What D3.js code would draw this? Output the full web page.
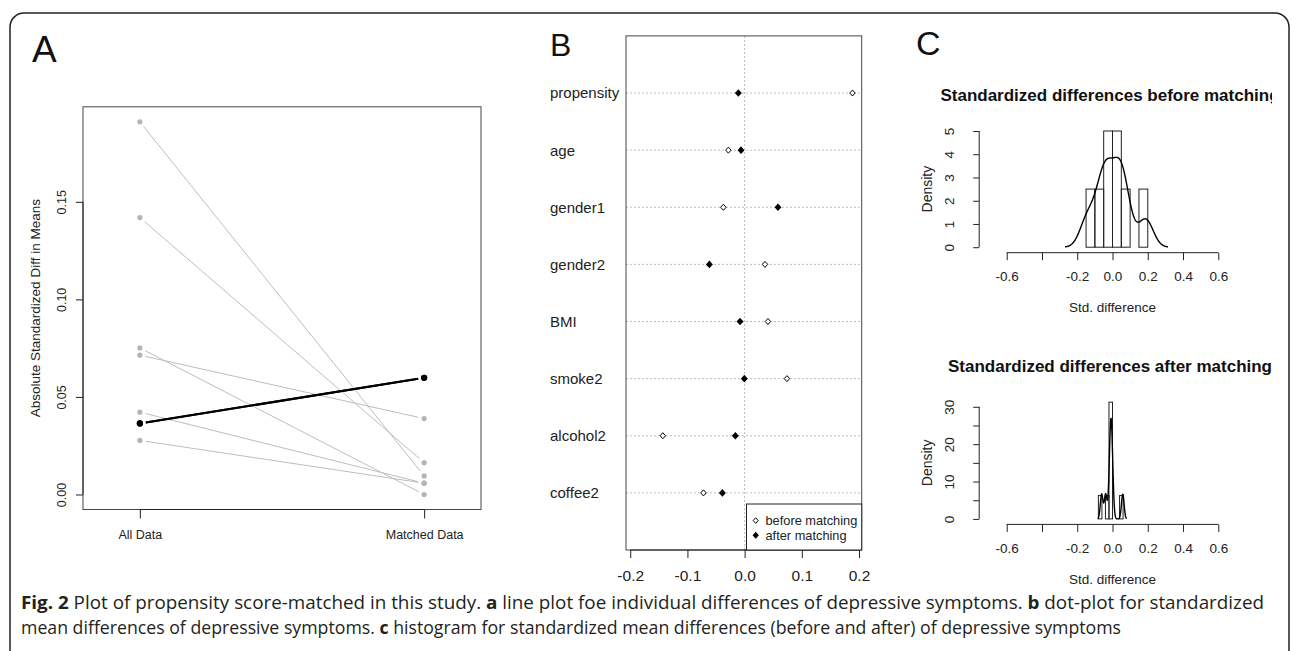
<!DOCTYPE html>
<html>
<head>
<meta charset="utf-8">
<script src="https://cdn.jsdelivr.net/npm/d3@7"></script>
<style>
  body { margin: 0; background: #fff; }
  svg { display: block; font-family: 'Liberation Sans', Arial, sans-serif; }
</style>
</head>
<body>
<svg id="fig" width="1292" height="651"></svg>
<script>
// ---- data ----
const covariates = ['propensity', 'age', 'gender1', 'gender2', 'BMI', 'smoke2', 'alcohol2', 'coffee2']
// signed standardized mean differences (panel B, also feeds the histograms in C)
const beforeDiff = [0.1885, -0.0284, -0.0372, 0.0356, 0.0408, 0.074, -0.143, -0.072]
const afterDiff = [-0.011, -0.0063, 0.0583, -0.0616, -0.008, -0.0005, -0.0162, -0.0389]
// absolute differences (panel A)
const allDataAbs = [0.191, 0.0277, 0.0364, 0.0364, 0.0422, 0.0751, 0.1419, 0.0714]
const matchedAbs = [0.0095, 0.0058, 0.0598, 0.0598, 0.0058, 0.0, 0.0163, 0.0389]

const groupLabels = ['All Data', 'Matched Data']
const yTicksA = [0, 0.05, 0.10, 0.15]
const yTickLabelsA = ['0.00', '0.05', '0.10', '0.15']
const xTicksB = [-0.2, -0.1, 0, 0.1, 0.2]
const xTickLabelsB = ['-0.2', '-0.1', '0.0', '0.1', '0.2']
const legendLabels = ['before matching', 'after matching']
const xTicksC = [-0.6, -0.4, -0.2, 0, 0.2, 0.4, 0.6]
const xTickLabelsC = ['-0.6', '', '-0.2', '0.0', '0.2', '0.4', '0.6']
const yTicksBefore = [0, 1, 2, 3, 4, 5]
const yTickLabelsBefore = ['0', '1', '2', '3', '4', '5']
const yTicksAfter = [0, 5, 10, 15, 20, 25, 30]
const yTickLabelsAfter = ['0', '', '10', '', '20', '', '30']
const breaksBefore = [-0.15, -0.1, -0.05, 0, 0.05, 0.1, 0.15, 0.2]
const breaksAfter = [-0.08, -0.06, -0.04, -0.02, 0, 0.02, 0.04, 0.06]

const ink = '#222'
const grey = '#bebebe'
const svg = d3.select('#fig')

// outer figure frame (runs off the bottom of the crop)
svg.append('rect')
    .attr('x', 10).attr('y', 13)
    .attr('width', 1279).attr('height', 660)
    .attr('rx', 14)
    .attr('fill', 'none')
    .attr('stroke', '#222')
    .attr('stroke-width', 1.5)

// panel letters
const letters = [['A', 32, 62, 37], ['B', 550, 56, 32], ['C', 916, 55, 34]]
letters.forEach(([t, x, y, s]) => {
    svg.append('text').attr('x', x).attr('y', y)
        .attr('font-size', s).attr('fill', '#111').text(t)
})

// R style axis: the line only spans the outer ticks, labels placed by hand
function rAxis(g, orient, scale, values, labels, tickLen, labelOffset, fontSize, rotate = false) {
    const fn = orient === 'bottom' ? d3.axisBottom : d3.axisLeft
    g.call(fn(scale).tickValues(values).tickSize(tickLen).tickSizeOuter(0)
        .tickFormat((d, i) => labels[i]))
    g.attr('font-family', null).attr('font-size', null)
    g.select('.domain').remove()
    g.selectAll('.tick line').attr('stroke', ink)
    const first = scale(values[0])
    const last = scale(values[values.length - 1])
    if (orient === 'bottom') {
        g.append('line').attr('x1', first).attr('x2', last).attr('stroke', ink)
        g.selectAll('.tick text').attr('y', labelOffset).attr('dy', 0)
    } else {
        g.append('line').attr('y1', first).attr('y2', last).attr('stroke', ink)
        if (rotate) {
            g.selectAll('.tick text')
                .attr('x', null).attr('dy', 0)
                .attr('text-anchor', 'middle')
                .attr('transform', `translate(${-labelOffset},0) rotate(-90)`)
        }
    }
    g.selectAll('.tick text').attr('fill', ink).attr('font-size', fontSize)
}

function rotatedLabel(x, y, text, size) {
    svg.append('text')
        .attr('transform', `translate(${x},${y}) rotate(-90)`)
        .attr('text-anchor', 'middle')
        .attr('font-size', size)
        .attr('fill', ink)
        .text(text)
}

// ---------------- Panel A ----------------
const ax = d3.scaleLinear().domain([0.8, 2.2]).range([83, 481])
const ay = d3.scaleLinear().domain([-0.0077, 0.1987]).range([509.5, 106.8])
const gA = svg.append('g')

const pairs = covariates.map((name, i) => ({
    name,
    all: allDataAbs[i],
    matched: matchedAbs[i],
    worse: matchedAbs[i] > allDataAbs[i]
})).sort((a, b) => a.worse - b.worse)

// lines leave a small gap round the points (type = "b")
function gapped(d, gap) {
    const x1 = ax(1), y1 = ay(d.all), x2 = ax(2), y2 = ay(d.matched)
    const len = Math.hypot(x2 - x1, y2 - y1)
    const ux = (x2 - x1) / len, uy = (y2 - y1) / len
    return [x1 + ux * gap, y1 + uy * gap, x2 - ux * gap, y2 - uy * gap]
}

gA.selectAll('line.pair')
    .data(pairs)
    .enter()
    .append('line')
    .attr('class', 'pair')
    .each(function (d) {
        const [x1, y1, x2, y2] = gapped(d, 6)
        d3.select(this).attr('x1', x1).attr('y1', y1).attr('x2', x2).attr('y2', y2)
    })
    .attr('stroke', d => d.worse ? '#000' : grey)
    .attr('stroke-width', d => d.worse ? 2 : 1)

const ptsA = pairs.flatMap(d => [{ x: 1, v: d.all, worse: d.worse }, { x: 2, v: d.matched, worse: d.worse }])
gA.selectAll('circle')
    .data(ptsA)
    .enter()
    .append('circle')
    .attr('cx', d => ax(d.x))
    .attr('cy', d => ay(d.v))
    .attr('r', d => d.worse ? 3.1 : 2.6)
    .attr('fill', d => d.worse ? '#000' : '#b4b4b4')

gA.append('rect')
    .attr('x', ax.range()[0]).attr('y', ay.range()[1])
    .attr('width', ax.range()[1] - ax.range()[0])
    .attr('height', ay.range()[0] - ay.range()[1])
    .attr('fill', 'none').attr('stroke', '#444')

rAxis(gA.append('g').attr('transform', `translate(0,${ay.range()[0]})`),
    'bottom', ax, [1, 2], groupLabels, 9, 29, 12.5)
rAxis(gA.append('g').attr('transform', `translate(${ax.range()[0]},0)`),
    'left', ay, yTicksA, yTickLabelsA, 7, 17, 12.5, true)
rotatedLabel(40, (ay.range()[0] + ay.range()[1]) / 2, 'Absolute Standardized Diff in Means', 13.5)

// ---------------- Panel B ----------------
const bx = d3.scaleLinear().domain([-0.2074, 0.2047]).range([626, 861.7])
const by = d3.scaleLinear().domain([0, 9]).range([550, 35.9])
const rowY = i => by(covariates.length - i)
const gB = svg.append('g')

// diamond marker (pch 5 / pch 18)
const diamond = {
    draw(ctx, size) {
        const r = Math.sqrt(size) / 2
        ctx.moveTo(0, -r * 1.1)
        ctx.lineTo(r, 0)
        ctx.lineTo(0, r * 1.1)
        ctx.lineTo(-r, 0)
        ctx.closePath()
    }
}

gB.selectAll('line.row')
    .data(covariates)
    .enter()
    .append('line')
    .attr('class', 'row')
    .attr('x1', bx.range()[0]).attr('x2', bx.range()[1])
    .attr('y1', (d, i) => rowY(i)).attr('y2', (d, i) => rowY(i))
    .attr('stroke', grey).attr('stroke-dasharray', '2,2')

gB.append('line')
    .attr('x1', bx(0)).attr('x2', bx(0))
    .attr('y1', by.range()[0]).attr('y2', by.range()[1])
    .attr('stroke', grey).attr('stroke-dasharray', '2,2')

gB.selectAll('text.row')
    .data(covariates)
    .enter()
    .append('text')
    .attr('class', 'row')
    .attr('x', 550)
    .attr('y', (d, i) => rowY(i) + 5.4)
    .attr('font-size', 15)
    .attr('fill', ink)
    .text(d => d)

gB.selectAll('path.before')
    .data(beforeDiff)
    .enter()
    .append('path')
    .attr('class', 'before')
    .attr('d', d3.symbol(diamond, 30))
    .attr('transform', (d, i) => `translate(${bx(d)},${rowY(i)})`)
    .attr('fill', '#fff').attr('stroke', '#000').attr('stroke-width', 1)

gB.selectAll('path.after')
    .data(afterDiff)
    .enter()
    .append('path')
    .attr('class', 'after')
    .attr('d', d3.symbol(diamond, 48))
    .attr('transform', (d, i) => `translate(${bx(d)},${rowY(i)})`)
    .attr('fill', '#000')

gB.append('rect')
    .attr('x', bx.range()[0]).attr('y', by.range()[1])
    .attr('width', bx.range()[1] - bx.range()[0])
    .attr('height', by.range()[0] - by.range()[1])
    .attr('fill', 'none').attr('stroke', '#444')

rAxis(gB.append('g').attr('transform', `translate(0,${by.range()[0]})`),
    'bottom', bx, xTicksB, xTickLabelsB, 8, 31, 15.5)

// legend, bottom right
const legend = gB.append('g').attr('transform', `translate(746.5,504)`)
legend.append('rect')
    .attr('width', bx.range()[1] - 746.5).attr('height', by.range()[0] - 504)
    .attr('fill', '#fff').attr('stroke', ink)
legendLabels.forEach((lab, i) => {
    const y = 16.6 + i * 14.6
    legend.append('path')
        .attr('d', d3.symbol(diamond, i === 0 ? 26 : 40))
        .attr('transform', `translate(9.2,${y})`)
        .attr('fill', i === 0 ? '#fff' : '#000')
        .attr('stroke', i === 0 ? '#000' : 'none')
    legend.append('text')
        .attr('x', 19).attr('y', y + 4.6)
        .attr('font-size', 12.8).attr('fill', ink)
        .text(lab)
})

// ---------------- Panel C ----------------
svg.append('clipPath').attr('id', 'clipC')
    .append('rect').attr('x', 890).attr('y', 0).attr('width', 382).attr('height', 651)

const cx = d3.scaleLinear().domain([-0.756, 0.756]).range([979.2, 1245.8])

function bwNrd0(values) {
    const sorted = values.slice().sort(d3.ascending)
    const iqr = d3.quantileSorted(sorted, 0.75) - d3.quantileSorted(sorted, 0.25)
    return 0.9 * Math.min(d3.deviation(values), iqr / 1.34) * Math.pow(values.length, -0.2)
}

function kde(values, bw, n = 512) {
    const lo = d3.min(values) - 3 * bw
    const hi = d3.max(values) + 3 * bw
    return d3.range(n).map(i => {
        const x = lo + (hi - lo) * i / (n - 1)
        const y = d3.mean(values, v => Math.exp(-0.5 * ((x - v) / bw) ** 2)) / (bw * Math.sqrt(2 * Math.PI))
        return [x, y]
    })
}

function histPanel({ values, breaks, yScale, yTicks, yLabels, title, titleY }) {
    const g = svg.append('g')
    const bins = d3.bin()
        .domain([breaks[0], breaks[breaks.length - 1]])
        .thresholds(breaks.slice(1, -1))(values)
    const width = breaks[1] - breaks[0]

    g.selectAll('rect')
        .data(bins.filter(b => b.length > 0))
        .enter()
        .append('rect')
        .attr('x', b => cx(b.x0))
        .attr('width', b => cx(b.x1) - cx(b.x0))
        .attr('y', b => yScale(b.length / (values.length * width)))
        .attr('height', b => yScale(0) - yScale(b.length / (values.length * width)))
        .attr('fill', 'none').attr('stroke', ink).attr('stroke-width', 1)

    g.append('path')
        .datum(kde(values, bwNrd0(values)))
        .attr('d', d3.line().x(d => cx(d[0])).y(d => yScale(d[1])))
        .attr('fill', 'none').attr('stroke', '#000').attr('stroke-width', 1.4)

    const axisY = yScale(0) + 5.5
    rAxis(g.append('g').attr('transform', `translate(0,${axisY})`),
        'bottom', cx, xTicksC, xTickLabelsC, 7.5, 28.5, 13.5)
    rAxis(g.append('g').attr('transform', `translate(${cx.range()[0]},0)`),
        'left', yScale, yTicks, yLabels, 6, 25.2, 13.5, true)

    g.append('text')
        .attr('x', cx(0)).attr('y', axisY + 59.5)
        .attr('text-anchor', 'middle').attr('font-size', 13.5).attr('fill', ink)
        .text('Std. difference')
    rotatedLabel(931.5, (yScale(0) + yScale(yTicks[yTicks.length - 1])) / 2, 'Density', 14)

    svg.append('text')
        .attr('clip-path', 'url(#clipC)')
        .attr('x', 1110).attr('y', titleY)
        .attr('text-anchor', 'middle')
        .attr('font-size', 17).attr('font-weight', 'bold').attr('fill', '#111')
        .text(title)
}

histPanel({
    values: beforeDiff,
    breaks: breaksBefore,
    yScale: d3.scaleLinear().domain([0, 5]).range([247.2, 131]),
    yTicks: yTicksBefore,
    yLabels: yTickLabelsBefore,
    title: 'Standardized differences before matching',
    titleY: 101
})

histPanel({
    values: afterDiff,
    breaks: breaksAfter,
    yScale: d3.scaleLinear().domain([0, 30]).range([518.9, 406.8]),
    yTicks: yTicksAfter,
    yLabels: yTickLabelsAfter,
    title: 'Standardized differences after matching',
    titleY: 371.7
})

// ---------------- caption ----------------
const captionLines = [
    { y: 609, len: 1243, parts: [['Fig. 2', true], [' Plot of propensity score-matched in this study. ', false], ['a', true],
        [' line plot foe individual differences of depressive symptoms. ', false], ['b', true], [' dot-plot for standardized', false]] },
    { y: 633.5, len: 1100, parts: [['mean differences of depressive symptoms. ', false], ['c', true],
        [' histogram for standardized mean differences (before and after) of depressive symptoms', false]] }
]
captionLines.forEach(line => {
    const t = svg.append('text')
        .attr('x', 21).attr('y', line.y)
        .attr('font-family', "'Open Sans', 'Noto Sans', sans-serif")
        .attr('font-size', 17.5)
        .attr('fill', '#231f20')
        .attr('textLength', line.len)
        .attr('lengthAdjust', 'spacingAndGlyphs')
    line.parts.forEach(([s, bold]) => {
        t.append('tspan').attr('font-weight', bold ? 'bold' : 'normal').text(s)
    })
})
</script>
</body>
</html>
